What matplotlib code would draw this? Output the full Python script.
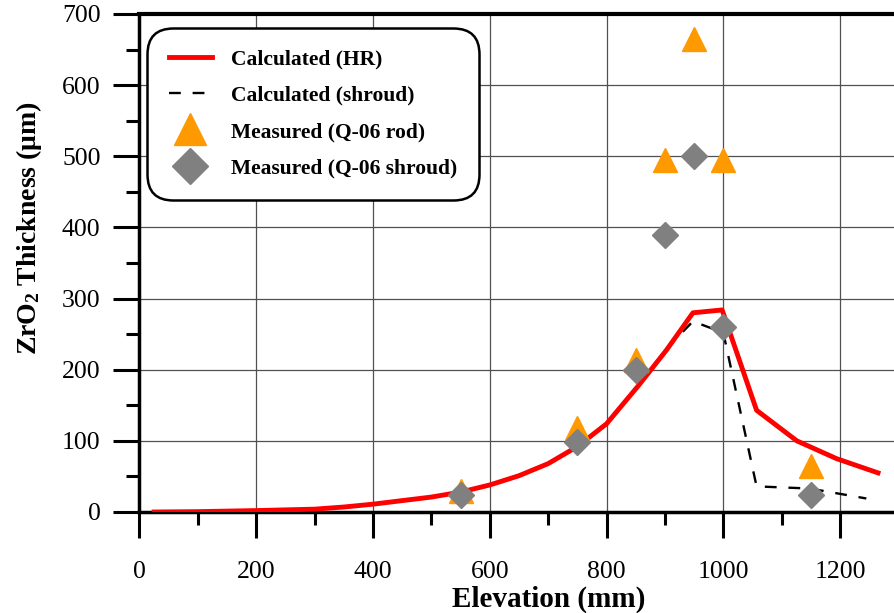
import matplotlib
matplotlib.use("Agg")
import matplotlib.pyplot as plt
from matplotlib.ticker import MultipleLocator

# ---- data ----
calc_hr_x = [25, 100, 200, 300, 350, 400, 450, 500, 550, 600, 650, 700, 750, 800,
             855, 903, 948, 998, 1057, 1126, 1194, 1265]
calc_hr_y = [0, 0.5, 2, 4, 7, 11, 16, 21, 28, 38, 51, 68, 92, 124,
             178, 228, 280, 284, 143, 100, 75, 55]
calc_sh_x = [25, 100, 200, 300, 350, 400, 450, 500, 550, 600, 650, 700, 750, 800,
             855, 903, 948, 1000, 1057, 1148, 1245]
calc_sh_y = [0, 0.5, 2, 4, 7, 11, 16, 21, 28, 38, 51, 68, 92, 124,
             178, 230, 268, 252, 36, 33, 19]
rod_x = [550, 750, 850, 900, 950, 1000, 1150]
rod_y = [30, 118, 213, 495, 665, 495, 64]
shroud_x = [550, 750, 850, 900, 950, 1000, 1150]
shroud_y = [24, 98, 200, 390, 500, 260, 24]

labels = ["Calculated (HR)", "Calculated (shroud)",
          "Measured (Q-06 rod)", "Measured (Q-06 shroud)"]
xlabel = "Elevation (mm)"
ylabel = r"ZrO$_{\mathbf{2}}$ Thickness (μm)"

plt.rcParams['font.family'] = ['Liberation Serif', 'DejaVu Serif']
plt.rcParams['mathtext.fontset'] = 'custom'
plt.rcParams['mathtext.rm'] = 'Liberation Serif'
plt.rcParams['mathtext.bf'] = 'Liberation Serif:bold'
plt.rcParams['mathtext.it'] = 'Liberation Serif:italic'

W, H = 895, 613
fig = plt.figure(figsize=(W / 100, H / 100), dpi=100)
x0, x1 = 139.5, 895
y0, y1 = 512, 14
ax = fig.add_axes([x0 / W, (H - y0) / H, (x1 - x0) / W, (y0 - y1) / H])

ax.plot(calc_hr_x, calc_hr_y, color='#ff0000', lw=3.5, label=labels[0], zorder=4)
ax.plot(calc_sh_x, calc_sh_y, color='black', lw=1.7, dashes=(5, 5), label=labels[1], zorder=3)
ax.plot(rod_x, rod_y, linestyle='none', marker='^', ms=17, color='#ff9900',
        label=labels[2], zorder=5)
ax.plot(shroud_x, shroud_y, linestyle='none', marker='D', ms=13.5, color='#808080',
        label=labels[3], zorder=5)

ax.set_xlim(0, (x1 - x0) / 0.5838)
ax.set_ylim(0, 700)
ax.xaxis.set_major_locator(MultipleLocator(200))
ax.xaxis.set_minor_locator(MultipleLocator(100))
ax.yaxis.set_major_locator(MultipleLocator(100))
ax.yaxis.set_minor_locator(MultipleLocator(50))

ax.grid(True, which='major', color='#505050', lw=0.9)
ax.set_axisbelow(True)

for s in ['left', 'bottom']:
    ax.spines[s].set_linewidth(2.5)
ax.spines['top'].set_linewidth(3)
ax.spines['right'].set_visible(False)

ax.tick_params(which='major', direction='out', length=19, width=2.2,
               labelsize=18.5, top=False, right=False)
ax.tick_params(which='minor', direction='out', length=9.5, width=2.2,
               top=False, right=False)
ax.tick_params(axis='x', which='major', pad=16)
ax.tick_params(axis='y', which='major', pad=9)

ax.set_xlabel(xlabel, fontsize=21, fontweight='bold')
ax.xaxis.set_label_coords((549 - x0) / (x1 - x0), -0.148)
ax.set_ylabel(ylabel, fontsize=20, fontweight='bold')
ax.yaxis.set_label_coords((44 - x0) / (x1 - x0), (y0 - 228) / (y0 - y1))

leg = ax.legend(loc='upper left', bbox_to_anchor=((147 - x0) / (x1 - x0), (y0 - 28) / (y0 - y1)),
                frameon=True, fancybox=True, prop={'weight': 'bold', 'size': 15.5},
                handlelength=2.0, handletextpad=0.9, labelspacing=0.75,
                borderpad=1.0, borderaxespad=0, markerscale=1.35)
frame = leg.get_frame()
frame.set_edgecolor('black')
frame.set_linewidth(1.8)
frame.set_alpha(1)
frame.set_boxstyle('round,pad=0,rounding_size=1.2')

fig.savefig('out.png', dpi=100)
